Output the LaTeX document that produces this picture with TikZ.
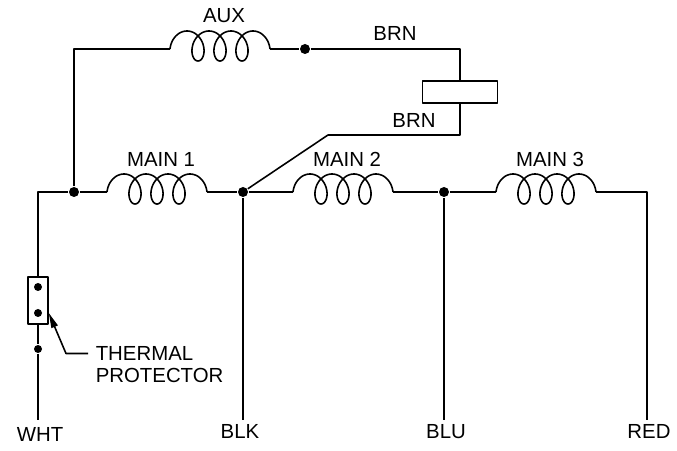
\documentclass[tikz,border=0pt]{standalone}
\usepackage{fontspec}
\setmainfont{Liberation Sans}
\usetikzlibrary{calc}
\usetikzlibrary{arrows.meta}

\tikzset{
    wire/.style={line width=1.35pt, line join=round},
    dot/.style={circle, fill, inner sep=0pt, minimum size=3mm},
    pin/.style={circle, fill, inner sep=0pt, minimum size=2.4mm},
    tag/.style={font=\fontsize{17.4}{19.2}\selectfont},
    winding/.pic={
        \draw[wire] plot[domain=-4.9124:17.4788, samples=220, variable=\t]
            ({3.5*\t-11*sin(\t r)-22},{15*cos(\t r)-3});
        \coordinate (-in) at (-50,0);
        \coordinate (-out) at (50,0);
        \node[tag] (-lbl) at (4,-33) {#1};
    },
}

\begin{document}
\begin{tikzpicture}[x=0.3mm, y=-0.3mm, wire]
            \useasboundingbox (0,0) rectangle (677,451);
            % junctions
            \node[dot] (j1) at (74,192) {};
            \node[dot] (j2) at (243,192) {};
            \node[dot] (j3) at (444,192) {};
            \node[dot] (j4) at (305,49) {};
            % windings
            \pic (aux) at (220,49) {winding=AUX};
            \pic (m1) at (157,192) {winding=MAIN 1};
            \pic (m2) at (343,192) {winding=MAIN 2};
            \pic (m3) at (546,192) {winding=MAIN 3};
            % capacitor
            \node[draw, inner sep=0pt, minimum width=22.5mm, minimum height=6.6mm] (cap) at (460,92) {};
            \node[tag] (brn1) at (395,33) {BRN};
            \node[tag] (brn2) at (414,120) {BRN};
            % thermal protector
            \node[draw, inner sep=0pt, minimum width=6mm, minimum height=14.1mm] (tp) at (38,300.5) {};
            \node[pin] (tpa) at (38,287) {};
            \node[pin] (tpb) at (38,313) {};
            \node[pin] (tpc) at (38,349) {};
            \node[tag, align=left, anchor=west, inner sep=0pt] (tplbl) at (95,364.5) {THERMAL\\PROTECTOR};
            % corners
            \coordinate (c1) at (38,192);
            \coordinate (c2) at (74,49);
            \coordinate (c3) at (460,49);
            \coordinate (c4) at (460,135);
            \coordinate (c5) at (328,135);
            \coordinate (c6) at (647,192);
            % leads
            \node[tag, anchor=north] (wht) at (40,423) {WHT};
            \node[tag, anchor=north] (blk) at (240,420) {BLK};
            \node[tag, anchor=north] (blu) at (446,420) {BLU};
            \node[tag, anchor=north] (red) at (649,420) {RED};
            % wiring
            \draw (tp.north) -- (c1) -- (j1) -- (m1-in);
            \draw (m1-out) -- (j2) -- (m2-in);
            \draw (m2-out) -- (j3) -- (m3-in);
            \draw (m3-out) -- (c6) -- (c6 |- red.north);
            \draw (j1) -- (c2) -- (aux-in);
            \draw (aux-out) -- (j4) -- (c3) -- (cap.north);
            \draw (cap.south) -- (c4) -- (c5) -- (j2);
            \draw (tp.south) -- (tpc) -- (tpc |- blk.north);
            \draw (j2) -- (j2 |- blk.north);
            \draw (j3) -- (j3 |- blu.north);
            \draw[-{Triangle[length=4.5mm, width=2mm]}] ([shift={(-7,-11)}]tplbl.west) -- ++(-22,0) -- (tp.east |- tpb);
\end{tikzpicture}
\end{document}
